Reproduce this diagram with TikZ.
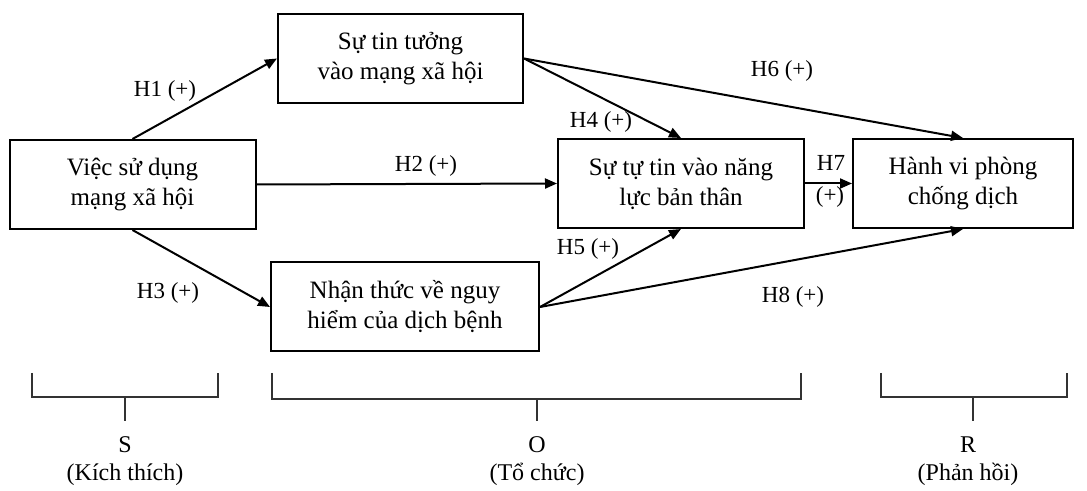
\documentclass[tikz,border=0pt]{standalone}
\usepackage{fontspec}
\setmainfont{Liberation Serif}
\usetikzlibrary{arrows.meta}
\begin{document}
\begin{tikzpicture}[x=0.5pt,y=-0.5pt,
  box/.style={draw,line width=1pt,minimum width=#1,minimum height=44.5pt,inner sep=0pt,align=center,font=\fontsize{12.5}{15}\selectfont},
  lbl/.style={inner sep=0pt,font=\fontsize{11.5}{14}\selectfont},
  grp/.style={inner sep=0pt,align=center,font=\fontsize{12}{14}\selectfont},
  arr/.style={line width=1pt,-{Triangle[length=6pt,width=5pt]}},
  brk/.style={draw=black!80,line width=0.6pt}]
  \useasboundingbox (0,0) rectangle (1087,491);

  \node[box=123pt] (use) at (132.5,184.5) {Việc sử dụng\\mạng xã hội};
  \node[box=122.5pt] (trust) at (400.5,58.5) {Sự tin tưởng\\vào mạng xã hội};
  \node[box=123pt] (eff) at (681,183.5) {Sự tự tin vào năng\\lực bản thân};
  \node[box=110pt] (act) at (963,183.5) {Hành vi phòng\\chống dịch};
  \node[box=134pt] (risk) at (405,307) {Nhận thức về nguy\\hiểm của dịch bệnh};

  \draw[arr] (use.north) -- (trust.west);
  \draw[arr] (use.east) -- (eff.west);
  \draw[arr] (use.south) -- (risk.west);
  \draw[arr] (trust.east) -- (eff.north);
  \draw[arr] (trust.east) -- (act.north);
  \draw[arr] (eff.east) -- (act.west);
  \draw[arr] (risk.east) -- (eff.south);
  \draw[arr] (risk.east) -- (act.south);

  \node[lbl] (h1) at (165,91) {H1 (+)};
  \node[lbl] (h2) at (426,166) {H2 (+)};
  \node[lbl] (h3) at (168,293) {H3 (+)};
  \node[lbl] (h4) at (601,122) {H4 (+)};
  \node[lbl] (h5) at (588,249) {H5 (+)};
  \node[lbl] (h6) at (782,71) {H6 (+)};
  \node[lbl] (h7) at (831,163) {H7};
  \node[lbl] (h7s) at (830,197) {(+)};
  \node[lbl] (h8) at (793,297) {H8 (+)};

  \draw[brk] (32,373) |- (218,397) -- (218,373);
  \draw[brk] (125,397) -- (125,421);
  \draw[brk] (272,373) |- (801,399) -- (801,373);
  \draw[brk] (537,399) -- (537,421);
  \draw[brk] (881,373) |- (1067,397) -- (1067,373);
  \draw[brk] (973,397) -- (973,421);

  \node[grp] (s) at (125,461) {S\\(Kích thích)};
  \node[grp] (o) at (537,461) {O\\(Tổ chức)};
  \node[grp] (r) at (968,461) {R\\(Phản hồi)};
\end{tikzpicture}
\end{document}
